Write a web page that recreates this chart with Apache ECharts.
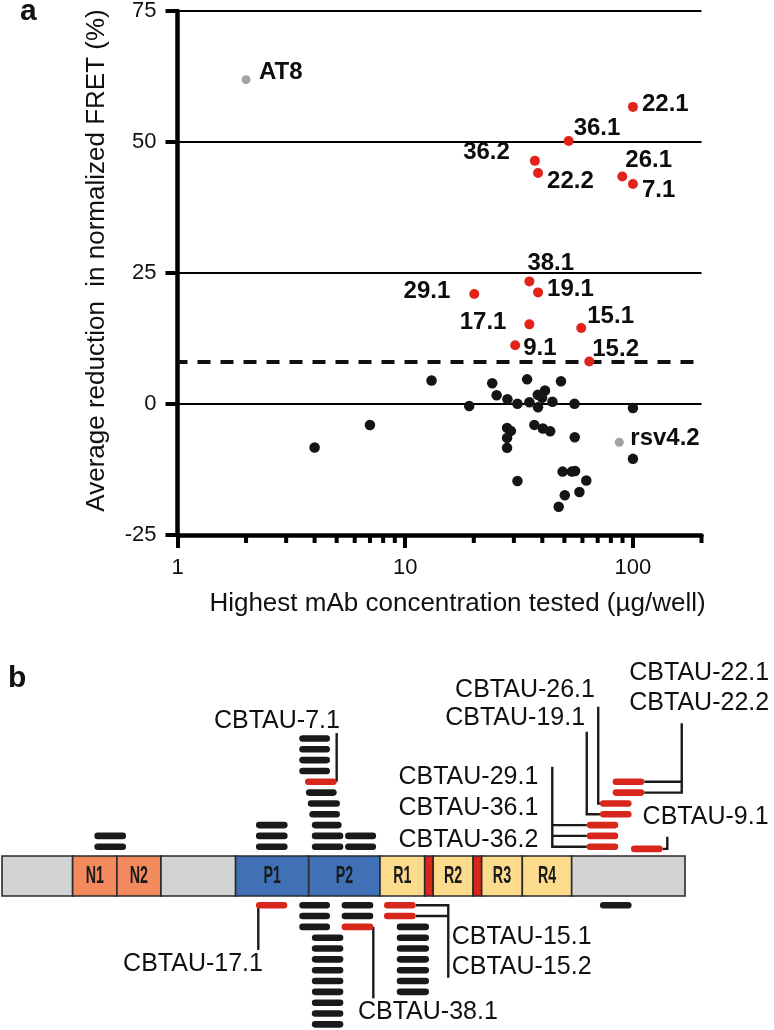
<!DOCTYPE html>
<html><head><meta charset="utf-8">
<script src="https://cdn.jsdelivr.net/npm/echarts@6/dist/echarts.min.js"></script>
<style>html,body{margin:0;padding:0;background:#fff}#c{width:774px;height:1030px}</style>
</head><body><div id="c"></div>
<script>
// ================= Panel a data =================
const xTickValues = [1, 10, 100];
const xMinorTickValues = [2,3,4,5,6,7,8,9,20,30,40,50,60,70,80,90,200];
const threshold = 8;

const blackX = [4.0, 7.0, 13.05, 19.1, 24.1, 25.2, 28.1, 31.1, 35.1, 34.3, 38.2, 41.1, 39.9, 38.3, 44.3, 48.3, 55.4, 100,
                28.0, 29.1, 28.0, 28.0, 36.9, 40.2, 43.3, 55.5, 100, 31.1, 49.1, 53.9, 55.7, 62.4, 58.2, 50.2, 47.2];
const blackY = [-8.3, -4.0, 4.47, -0.37, 3.95, 1.67, 0.9, 0.05, 0.33, 4.7, 1.76, 2.56, 1.2, -0.62, 0.43, 4.33, 0.05, -0.75,
                -4.56, -5.13, -6.47, -8.37, -3.99, -4.68, -5.19, -6.33, -10.47, -14.7, -12.9, -12.9, -12.8, -14.6, -16.8, -17.4, -19.6];

const redNames = ['22.1','36.1','36.2','22.2','26.1','7.1','38.1','19.1','29.1','17.1','15.1','9.1','15.2'];
const redX = [100, 52.2, 37.1, 38.3, 89.8, 100, 35.1, 38.3, 20.1, 35.1, 59.3, 30.4, 64.3];
const redY = [56.7, 50.2, 46.4, 44.1, 43.4, 42.0, 23.4, 21.3, 21.0, 15.2, 14.5, 11.2, 8.1];

const grayNames = ['AT8', 'rsv4.2'];
const grayX = [2, 87.1];
const grayY = [61.9, -7.3];

// ================= Panel b data (tau residue axis, row units) =================
const domainNames = ['', 'N1', 'N2', '', 'P1', 'P2', 'R1', '', 'R2', '', 'R3', 'R4', ''];
const domainStart = [0, 45.5, 74, 102.4, 150.5, 197.6, 243.5, 272.3, 277.8, 303.5, 309, 335.2, 367];
const domainEnd   = [45.5, 74, 102.4, 150.5, 197.6, 243.5, 272.3, 277.8, 303.5, 309, 335.2, 367, 440];
const domainKind  = ['term','N','N','term','P','P','R','hex','R','hex','R','R','term'];

// epitope bars: [start, end, row, side (+1 above / -1 below), red (1) or black (0)]
const epitopesAbove = [
  [59.5,79.9,1,1,0],[59.5,79.9,2,1,0],
  [163.6,184,1,1,0],[163.6,184,2,1,0],[163.6,184,3,1,0],
  [199.6,219.9,1,1,0],[199.6,219.9,2,1,0],[199.6,218.8,3,1,0],[198,217.7,4,1,0],[197,217.7,5,1,0],[195.8,215.6,6,1,0],
  [195.2,215.6,7,1,1],
  [191.5,211.3,8,1,0],[191.5,211.3,9,1,0],[191.5,211.3,10,1,0],[191.5,211.3,11,1,0],
  [221,241,1,1,0],[221,241,2,1,0],
  [376.7,397,1,1,1],[376.7,397,2,1,1],[376.7,397,3,1,1],
  [385.2,405.6,4,1,1],[385.2,405.6,5,1,1],
  [393.4,413.8,6,1,1],[393.4,413.8,7,1,1],
  [405.2,425.6,0.8,1,1]
];
const epitopesBelow = [
  [163.6,183.8,1,-1,1],
  [191.5,211.3,1,-1,0],[191.5,211.3,2,-1,0],[191.5,211.3,3,-1,0],
  [199.6,219.9,4,-1,0],[199.6,219.9,5,-1,0],[199.6,219.9,6,-1,0],[199.6,219.9,7,-1,0],[199.6,219.9,8,-1,0],
  [199.6,219.9,9,-1,0],[199.6,219.9,10,-1,0],[199.6,219.9,11,-1,0],[199.6,219.9,12,-1,0],
  [218.8,239.2,1,-1,0],[218.8,239.2,2,-1,0],[218.8,239.2,3,-1,1],
  [246.1,266.5,1,-1,1],[246.1,266.5,2,-1,1],
  [254.3,275.1,3,-1,0],[254.3,275.1,4,-1,0],[254.3,275.1,5,-1,0],[254.3,275.1,6,-1,0],[254.3,275.1,7,-1,0],[254.3,275.1,8,-1,0],[254.3,275.1,9,-1,0],
  [385.2,405.6,1,-1,0]
];

const ROW_OFFSET = 1.7;
const up = k => k + ROW_OFFSET;
const dn = k => -(k + ROW_OFFSET);

const leaderPaths = [
  [[215.6, up(7)], [215.6, 13.2]],
  [[165.1, dn(1)], [165.1, -6.83]],
  [[239.2, dn(3)], [239.2, -11.3]],
  [[266.5, dn(1)], [287.5, dn(1)], [287.5, -9.39]],
  [[266.5, dn(2)], [287.5, dn(2)]],
  [[354.5, 10.09], [354.5, up(1)], [376.7, up(1)]],
  [[354.5, up(2)], [376.7, up(2)]],
  [[354.5, up(3)], [376.7, up(3)]],
  [[376.7, 13.32], [376.7, up(4)], [385.2, up(4)]],
  [[384.1, 15.63], [384.1, up(5)], [385.2, up(5)]],
  [[413.8, up(6)], [437.9, up(6)], [437.9, 14.1]],
  [[413.8, up(7)], [437.9, up(7)]],
  [[425.6, up(0.8)], [428.6, up(0.8)], [428.6, 3.63]]
];
const leaderTexts = ['CBTAU-7.1','CBTAU-17.1','CBTAU-38.1','CBTAU-15.1','CBTAU-15.2','CBTAU-29.1','CBTAU-36.1','CBTAU-36.2',
                     'CBTAU-19.1','CBTAU-26.1','CBTAU-22.1','CBTAU-22.2','CBTAU-9.1'];
const leaderTextX = [217.7, 168.1, 229.3, 289.7, 289.7, 345.5, 345.5, 345.5, 375.6, 382, 404.1, 404.1, 412.7];
const leaderTextY = [14.3, -8.13, -12.56, -5.63, -8.37, 9.17, 6.25, 3.32, 14.59, 17.17, 18.74, 15.95, 5.48];
const leaderTextAlign = ['right','right','left','left','left','right','right','right','right','right','left','left','left'];

// ================= styling / layout =================
const FONT = "'Liberation Sans', Arial, Helvetica, sans-serif";
const RED = '#e2231a';
const BLACK = '#151515';
const kindColor = { term: '#d1d3d4', N: '#f28a5e', P: '#4070b5', R: '#fcdb8d', hex: '#d8261c' };
const BAR_W = 6.6;

// label placement for annotated points: [align, dx, dy]
const labelPlace = {
  'AT8': ['left', 13, -7], 'rsv4.2': ['left', 11, -3.5],
  '22.1': ['left', 9, -3], '36.1': ['left', 5, -13], '36.2': ['right', -25, -8], '22.2': ['left', 9, 8],
  '26.1': ['left', 3, -16], '7.1': ['left', 9, 6], '38.1': ['left', -2, -18.5], '19.1': ['left', 9, -3],
  '29.1': ['right', -24, -3], '17.1': ['right', -23, -1.5], '15.1': ['left', 6, -12], '9.1': ['left', 8, 3],
  '15.2': ['left', 3, -12]
};
function labelled(names, xs, ys) {
  return names.map((n, i) => {
    const p = labelPlace[n];
    return {
      name: n, value: [xs[i], ys[i]],
      label: { show: true, formatter: n, position: 'inside', align: p[0], verticalAlign: 'middle', offset: [p[1], p[2]],
               color: '#0d0d0d', fontSize: 24, fontWeight: 'bold', fontFamily: FONT,
               textBorderWidth: 0, textBorderColor: 'transparent', opacity: 1 }
    };
  });
}

const chart = echarts.init(document.getElementById('c'), null, { renderer: 'canvas' });

const option = {
  animation: false,
  backgroundColor: '#fff',
  title: [
    { text: 'a', left: 20, top: -3, padding: 0, textStyle: { fontSize: 30, fontWeight: 'bold', color: '#111', fontFamily: FONT } },
    { text: 'b', left: 8, top: 664, padding: 0, textStyle: { fontSize: 30, fontWeight: 'bold', color: '#111', fontFamily: FONT } }
  ],
  grid: [
    { left: 177.5, right: 72.5, top: 10, bottom: 495 },
    { left: 2, right: 89, top: 659.4, bottom: 2.4 }
  ],
  xAxis: [
    {
      gridIndex: 0, type: 'log', logBase: 10, min: 1, max: 200,
      name: 'Highest mAb concentration tested (µg/well)', nameLocation: 'middle', nameGap: 56,
      nameTextStyle: { fontSize: 26, color: '#111', fontFamily: FONT, padding: [0, 0, 0, 36] },
      axisLine: { onZero: false, lineStyle: { color: '#000', width: 4.5 } },
      axisTick: { show: true, length: 13, customValues: xTickValues, lineStyle: { color: '#000', width: 4 } },
      minorTick: { show: false },
      axisLabel: { customValues: xTickValues, fontSize: 22, margin: 22, color: '#111', fontFamily: FONT },
      splitLine: { show: false }
    },
    { gridIndex: 1, type: 'value', min: 0, max: 440, show: false }
  ],
  yAxis: [
    {
      gridIndex: 0, type: 'value', min: -25, max: 75, interval: 25,
      name: 'Average reduction  in normalized FRET (%)', nameLocation: 'middle', nameGap: 68,
      nameTextStyle: { fontSize: 26, color: '#111', fontFamily: FONT, padding: [0, 0, 0, 25] },
      axisLine: { onZero: false, lineStyle: { color: '#000', width: 4.5 } },
      axisTick: { show: true, length: 12, lineStyle: { color: '#000', width: 4 } },
      axisLabel: { fontSize: 22, margin: 21, color: '#111', fontFamily: FONT },
      splitLine: { show: true, lineStyle: { color: '#000', width: 2 } }
    },
    { gridIndex: 1, type: 'value', min: -14, max: 20, show: false }
  ],
  series: [
    // minor ticks of the log axis
    {
      type: 'custom', xAxisIndex: 0, yAxisIndex: 0, silent: true, clip: false, z: 5,
      data: xMinorTickValues.map(v => [v, -25]),
      renderItem: (params, api) => {
        const p = api.coord([api.value(0), api.value(1)]);
        return { type: 'line', shape: { x1: p[0], y1: p[1], x2: p[0], y2: p[1] + 8 }, style: { stroke: '#000', lineWidth: 4 } };
      }
    },
    // threshold
    {
      type: 'line', xAxisIndex: 0, yAxisIndex: 0, symbol: 'none', silent: true, z: 3,
      data: [[1, threshold], [200, threshold]],
      lineStyle: { color: '#111', width: 4, type: [13, 10], dashOffset: 3 }
    },
    {
      type: 'scatter', xAxisIndex: 0, yAxisIndex: 0, symbolSize: 10.5, z: 4,
      itemStyle: { color: BLACK, opacity: 1 },
      data: blackX.map((x, i) => [x, blackY[i]])
    },
    {
      type: 'scatter', xAxisIndex: 0, yAxisIndex: 0, symbolSize: 10, z: 5,
      itemStyle: { color: RED, opacity: 1 },
      data: labelled(redNames, redX, redY)
    },
    {
      type: 'scatter', xAxisIndex: 0, yAxisIndex: 0, symbolSize: 9, z: 5,
      itemStyle: { color: '#a3a3a3', opacity: 1 },
      data: labelled(grayNames, grayX, grayY)
    },
    // ----- panel b: domains -----
    {
      type: 'custom', xAxisIndex: 1, yAxisIndex: 1, silent: true, clip: false, z: 2,
      data: domainStart.map((s, i) => [s, domainEnd[i], i]),
      renderItem: (params, api) => {
        const i = params.dataIndex;
        const a = api.coord([api.value(0), 1.85]);
        const b = api.coord([api.value(1), -1.85]);
        const children = [{
          type: 'rect', shape: { x: a[0], y: a[1], width: b[0] - a[0], height: b[1] - a[1] },
          style: { fill: kindColor[domainKind[i]], stroke: '#2a2a2a', lineWidth: 1.6 }
        }];
        if (domainNames[i]) {
          children.push({
            type: 'text', x: (a[0] + b[0]) / 2, y: (a[1] + b[1]) / 2 + 1, scaleX: 0.62,
            style: { text: domainNames[i], align: 'center', verticalAlign: 'middle', fill: '#1a1a1a',
                     fontSize: 23, fontWeight: 'bold', fontFamily: FONT }
          });
        }
        return { type: 'group', children };
      }
    },
    // ----- panel b: leader lines -----
    {
      type: 'custom', xAxisIndex: 1, yAxisIndex: 1, silent: true, clip: false, z: 3,
      data: leaderPaths.map(p => p[0]),
      renderItem: (params, api) => {
        const pts = leaderPaths[params.dataIndex].map(p => api.coord(p));
        return { type: 'polyline', shape: { points: pts }, style: { stroke: '#1a1a1a', lineWidth: 2.4, fill: null } };
      }
    },
    // ----- panel b: epitope bars -----
    {
      type: 'custom', xAxisIndex: 1, yAxisIndex: 1, silent: true, clip: false, z: 4,
      data: epitopesAbove.concat(epitopesBelow),
      renderItem: (params, api) => {
        const y = api.value(3) * (api.value(2) + ROW_OFFSET);
        const p1 = api.coord([api.value(0), y]);
        const p2 = api.coord([api.value(1), y]);
        const h = BAR_W / 2;
        return { type: 'line', shape: { x1: p1[0] + h, y1: p1[1], x2: p2[0] - h, y2: p2[1] },
                 style: { stroke: api.value(4) ? '#d9261c' : '#1a1a1a', lineWidth: BAR_W, lineCap: 'round' } };
      }
    },
    // ----- panel b: antibody labels -----
    {
      type: 'custom', xAxisIndex: 1, yAxisIndex: 1, silent: true, clip: false, z: 5,
      data: leaderTextX.map((x, i) => [x, leaderTextY[i]]),
      renderItem: (params, api) => {
        const i = params.dataIndex;
        const p = api.coord([api.value(0), api.value(1)]);
        return { type: 'text', x: p[0], y: p[1],
                 style: { text: leaderTexts[i], align: leaderTextAlign[i], verticalAlign: 'middle',
                          fill: '#111', fontSize: 25, fontFamily: FONT } };
      }
    }
  ]
};
chart.setOption(option);
</script>
</body></html>
